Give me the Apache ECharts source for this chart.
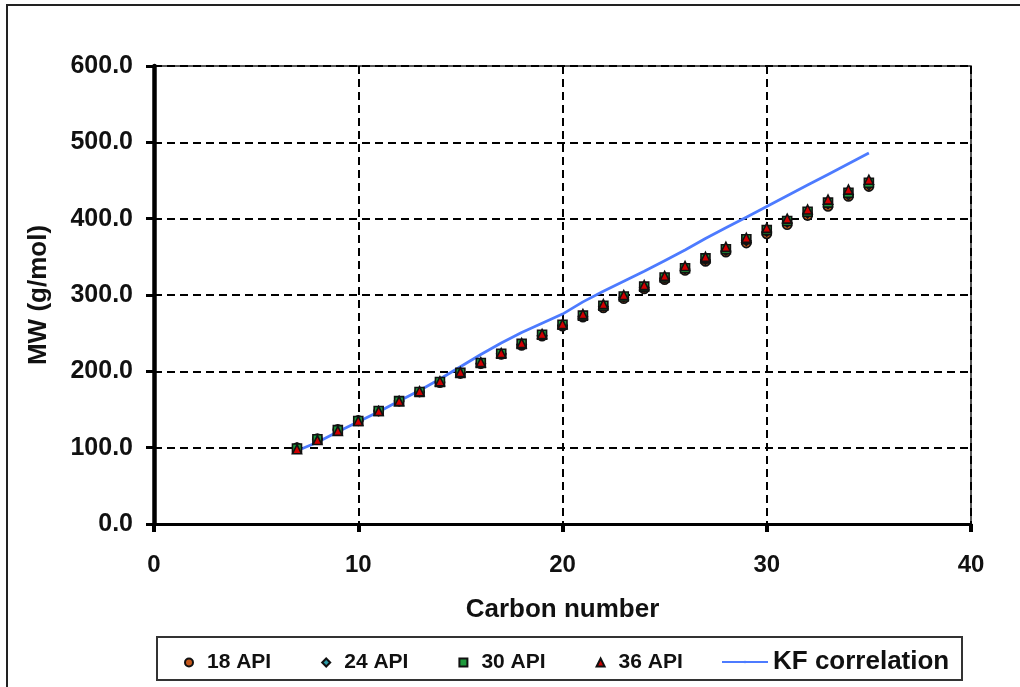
<!DOCTYPE html>
<html>
<head>
<meta charset="utf-8">
<script src="https://cdn.jsdelivr.net/npm/echarts@6/dist/echarts.min.js"></script>
<style>html,body{margin:0;padding:0;background:#fff}#c{width:1020px;height:687px}</style>
</head>
<body>
<div id="c"></div>
<script>
var carbon = [7,8,9,10,11,12,13,14,15,16,17,18,19,20,21,22,23,24,25,26,27,28,29,30,31,32,33,34,35];
var api18 = [100,112,124,136,148,161,173,185,197,210,222,234,246,259,271,283,295,308,320,332,344,356,368,380,392,404,416,429,442];
var api24 = [100,111,123,135,148,161,173,186,198,210,223,235,247,260,272,285,297,310,322,334,346,358,371,383,395,407,419,431,444];
var api30 = [99,111,123,135,148,161,173,186,198,211,223,236,248,261,273,286,298,311,323,335,348,360,373,385,397,409,421,434,447];
var api36 = [98,110,122,135,148,161,174,187,199,212,224,237,249,262,275,288,300,313,325,338,350,363,375,388,400,412,425,438,451];
var kf = [96,107,121,134,147,161,175,190,206,222,237,251,263,275,291,305,318,331,345,359,374,388,402,416,430,444,458,472,486];
var seriesNames = ['18 API','24 API','30 API','36 API','KF correlation'];

function pairs(ys){ return carbon.map(function(c,i){ return [c, ys[i]]; }); }

var FONT = 'Liberation Sans, Arial, sans-serif';
var chart = echarts.init(document.getElementById('c'));
function sc(name, data, symbol, color){
  return {
    name: name, type: 'scatter', data: pairs(data), symbol: symbol, symbolSize: 9, z: 3,
    itemStyle: {color: color, borderColor: '#111', borderWidth: 1.6, opacity: 1},
    emphasis: {disabled: true}
  };
}
chart.setOption({
  animation: false,
  backgroundColor: '#fff',
  grid: {left: 154, right: 49, top: 66, bottom: 163, show: true, borderColor: '#222', borderWidth: 1.5, backgroundColor: 'transparent'},
  xAxis: {
    type: 'value', min: 0, max: 40, interval: 10,
    name: 'Carbon number', nameLocation: 'middle', nameGap: 73,
    nameTextStyle: {fontFamily: FONT, fontWeight: 'bold', fontSize: 26, color: '#111'},
    axisLine: {show: true, lineStyle: {color: '#000', width: 3}},
    axisTick: {show: true, inside: false, length: 8, lineStyle: {color: '#000', width: 4}},
    axisLabel: {fontFamily: FONT, fontWeight: 'bold', fontSize: 24, color: '#111', margin: 29},
    splitLine: {show: true, lineStyle: {color: '#000', width: 2, type: [8,5]}}
  },
  yAxis: {
    type: 'value', min: 0, max: 600, interval: 100,
    name: 'MW (g/mol)', nameLocation: 'middle', nameGap: 102,
    nameTextStyle: {fontFamily: FONT, fontWeight: 'bold', fontSize: 26, color: '#111'},
    axisLine: {show: true, lineStyle: {color: '#000', width: 4.5}},
    axisTick: {show: true, inside: false, length: 8, lineStyle: {color: '#000', width: 3}},
    axisLabel: {fontFamily: FONT, fontWeight: 'bold', fontSize: 25, color: '#111', margin: 21,
      formatter: function(v){ return v.toFixed(1); }},
    splitLine: {show: true, lineStyle: {color: '#000', width: 2, type: [8,5]}}
  },
  legend: [{
    data: seriesNames.slice(0,4), left: 179, top: 647, itemWidth: 8, itemHeight: 8, itemGap: 50,
    textStyle: {fontFamily: FONT, fontWeight: 'bold', fontSize: 21, color: '#111', padding: [0,0,0,9]}, selectedMode: false
  },{
    data: [seriesNames[4]], left: 716, top: 644, itemWidth: 46, itemHeight: 3, itemGap: 0,
    textStyle: {fontFamily: FONT, fontWeight: 'bold', fontSize: 26, color: '#111'}, selectedMode: false
  }],
  graphic: [
    {type: 'polyline', z: -10, shape: {points: [[7,687],[7,5],[1020,5]]}, style: {stroke: '#222', lineWidth: 2, fill: null}},
    {type: 'rect', z: -10, shape: {x: 157, y: 637, width: 805, height: 43}, style: {stroke: '#333', lineWidth: 2, fill: '#fff'}}
  ],
  series: [
    {name: 'KF correlation', type: 'line', data: pairs(kf), symbol: 'none', showSymbol: false, z: 2,
      lineStyle: {color: '#4d7bff', width: 2.8}, itemStyle: {color: '#4d7bff'}, emphasis: {disabled: true}},
    sc('18 API', api18, 'circle', '#c4581c'),
    sc('24 API', api24, 'diamond', '#2a9aa6'),
    sc('30 API', api30, 'rect', '#1e9a3c'),
    sc('36 API', api36, 'triangle', '#d00000')
  ]
});
</script>
</body>
</html>
